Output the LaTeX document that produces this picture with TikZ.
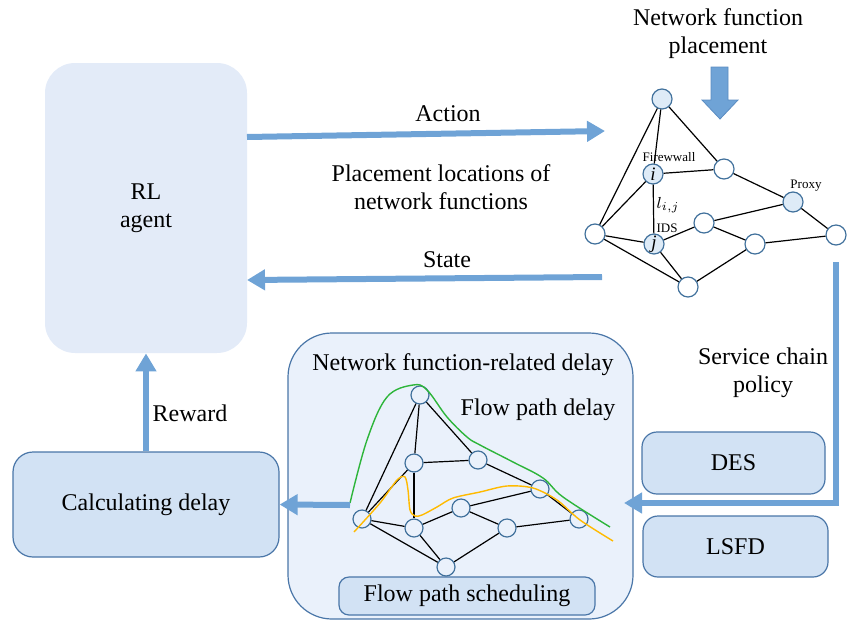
\documentclass[tikz,border=0pt]{standalone}
\usepackage{fontspec}
\setmainfont{Liberation Serif}
\usetikzlibrary{positioning, arrows.meta}

\definecolor{arrowblue}{HTML}{6FA3D6}
\definecolor{arrowline}{HTML}{5A8CC2}
\definecolor{agentfill}{HTML}{E3EBF8}
\definecolor{boxfill}{HTML}{D2E2F4}
\definecolor{boxline}{HTML}{4A76A8}
\definecolor{panelfill}{HTML}{EAF1FB}
\definecolor{nodeline}{HTML}{41719C}
\definecolor{nodefill}{HTML}{DEEBF7}
\definecolor{pathgreen}{HTML}{2DB53A}
\definecolor{pathorange}{HTML}{FFBA00}

\begin{document}
\begin{tikzpicture}[
x=0.5pt, y=-0.5pt,
font=\fontsize{12}{14}\selectfont,
agent/.style={rectangle, rounded corners=15pt, fill=agentfill, minimum width=101pt, minimum height=145pt, align=center},
block/.style={rectangle, rounded corners=10pt, draw=boxline, fill=boxfill, line width=0.6pt, inner sep=0pt},
panel/.style={rectangle, rounded corners=22pt, draw=boxline, fill=panelfill, line width=0.6pt, minimum width=172.5pt, minimum height=143pt},
host/.style={circle, draw=nodeline, fill=white, line width=0.6pt, minimum size=10pt, inner sep=0pt, font=\fontsize{9.5}{9.5}\selectfont},
nf/.style={host, fill=nodefill},
hop/.style={circle, draw=nodeline, fill=panelfill, line width=0.6pt, minimum size=9pt, inner sep=0pt},
link/.style={line width=0.6pt},
flow/.style={draw=arrowblue, line width=3pt, -{Triangle[length=9pt,width=10pt]}},
tag/.style={font=\fontsize{6.5}{7}\selectfont, inner sep=0.5pt}
]
\useasboundingbox (0,0) rectangle (849,621);

%Nodes
\node[agent]       (rl)     at (146,208)      {RL\\agent};
\node[block, minimum width=133pt, minimum height=52.5pt] (calc) at (146,504.5) {Calculating delay};
\node[panel]       (panel)  at (460.5,476)    {};
\node[block, rounded corners=7.5pt, minimum width=91.5pt, minimum height=31pt] (des)  at (733.5,463)   {DES};
\node[block, rounded corners=7.5pt, minimum width=92.5pt, minimum height=30.5pt] (lsfd) at (735.5,546.5) {LSFD};
\node[block, rounded corners=5pt, minimum width=128pt, minimum height=19pt] (sched) at (467,596) {Flow path scheduling};

\node (action)  at (448,114) {Action};
\node[align=center] (placeloc) at (441,187) {Placement locations of\\network functions};
\node (state)   at (447,260) {State};
\node[align=center] (nfp) at (718,34) {Network function\\placement};
\node[align=center] (scp) at (763,373) {Service chain\\policy};
\node (reward)  at (190,413) {Reward};
\node (nfdelay) at (463,365) {Network function-related delay};
\node (fpdelay) at (538,410) {Flow path delay};

%Top network
\node[nf]   (t1) at (662,99)  {};
\node[nf]   (ti) at (653,174) {\textit{i}};
\node[host] (t3) at (724,169) {};
\node[nf]   (tp) at (793,202) {};
\node[host] (t5) at (836,235) {};
\node[host] (tl) at (595,234) {};
\node[nf]   (tj) at (654,244) {\textit{j}};
\node[host] (t8) at (704,223) {};
\node[host] (t9) at (755,244) {};
\node[host] (tb) at (688,287) {};

\node[tag] (fw)    at (669,157) {Firewwall};
\node[tag] (ids)   at (667,228) {IDS};
\node[tag] (proxy) at (806,186) {Proxy};
\node[tag, font=\fontsize{8}{8}\selectfont] (lij) at (668,205) {$l_{i,j}$};

%Lower network
\node[hop] (ga) at (420,395) {};
\node[hop] (gb) at (414,463) {};
\node[hop] (gc) at (478,460) {};
\node[hop] (gd) at (540,489) {};
\node[hop] (ge) at (579,519) {};
\node[hop] (gf) at (362,519) {};
\node[hop] (gg) at (414,528) {};
\node[hop] (gh) at (461,508) {};
\node[hop] (gk) at (507,528) {};
\node[hop] (gm) at (446,567) {};

\coordinate (actS) at (247,137);
\coordinate (actE) at (605,131);
\coordinate (stS)  at (602,277);
\coordinate (stE)  at (247,280);
\coordinate (scS)  at (836,262);
\coordinate (scE)  at (624,503);
\coordinate (gS)   at (350,505);

%Lines
\foreach \a/\b in {t1/ti, t1/tl, t1/t3, ti/t3, ti/tl, ti/tj, tl/tj, tl/tb, tj/tb, tj/t8, t8/tp, t8/t9, t3/tp, tp/t5, t9/t5, t9/tb}
  \draw[link] (\a) -- (\b);
\foreach \a/\b in {ga/gb, ga/gf, ga/gc, gb/gc, gb/gf, gb/gg, gf/gg, gf/gm, gg/gm, gg/gh, gh/gd, gh/gk, gc/gd, gd/ge, gk/ge, gk/gm}
  \draw[link] (\a) -- (\b);

\draw[pathgreen, line width=0.7pt] plot[smooth, tension=0.6] coordinates {(350,503) (367,440) (387,397) (413,385) (427,390) (447,417) (467,437) (480,445) (513,462) (543,478) (563,497) (610,527)};
\draw[pathorange, line width=0.7pt] plot[smooth, tension=0.5] coordinates {(354,532) (380,503) (397,480) (405,477) (408,490) (410,510) (415,516) (422,515) (437,507) (453,498) (480,492) (507,486) (533,488) (557,500) (580,520) (613,541)};

\draw[flow] (actS) -- (actE);
\draw[flow] (stS) -- (stE);
\draw[flow] (calc.north) -- (rl.south);
\draw[flow] (gS) -- (calc.east);
\draw[flow] (scS) -- (scS |- scE) -- (scE);
\draw[fill=arrowblue, draw=arrowline, line width=0.4pt] (711,67) -- (728,67) -- (728,100) -- (738,100) -- (720,119) -- (702,100) -- (711,100) -- cycle;
\end{tikzpicture}
\end{document}
